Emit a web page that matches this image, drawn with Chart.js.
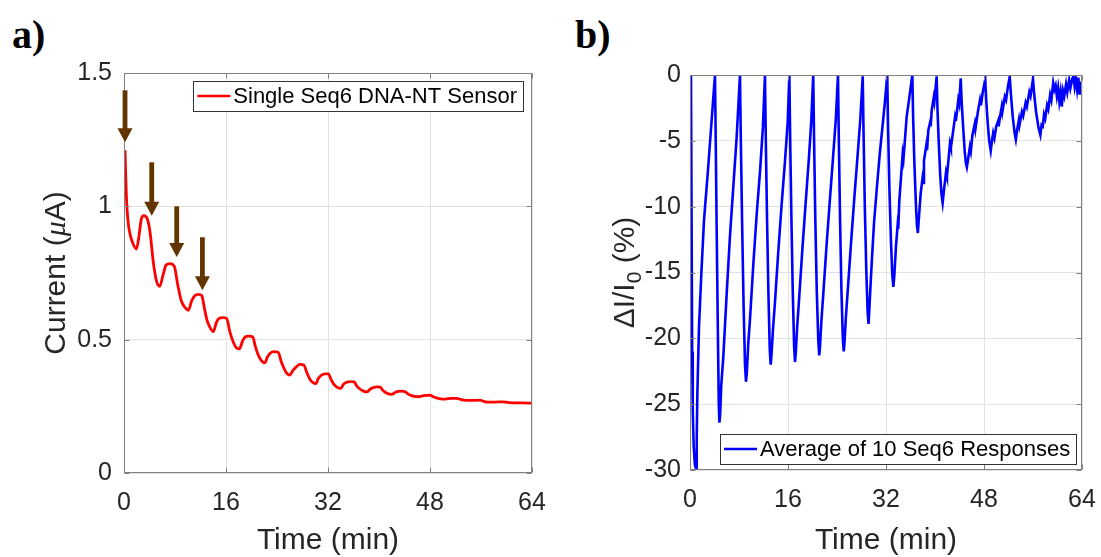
<!DOCTYPE html>
<html>
<head>
<meta charset="utf-8">
<script src="https://cdn.jsdelivr.net/npm/chart.js@4.4.0/dist/chart.umd.min.js"></script>
<style>
body { margin: 0; background: #fff; width: 1101px; height: 557px; position: relative; overflow: hidden; }
canvas { position: absolute; top: 0; }
#chartA { left: 0; }
#chartB { left: 560px; }
.tag { position: absolute; font-family: "Liberation Serif", "Times New Roman", serif; font-weight: bold; font-size: 40px; color: #000; line-height: 1; }
</style>
</head>
<body>
<div class="tag" style="left:12px;top:15px">a)</div>
<div class="tag" style="left:575px;top:15px">b)</div>
<canvas id="chartA" width="560" height="557"></canvas>
<canvas id="chartB" width="541" height="557"></canvas>
<script>
// panel a: single sensor current
const timeA = [0.16, 0.3, 0.45, 0.7, 1.0, 1.5, 1.95, 2.3, 2.7, 3.1, 3.7, 4.1, 4.6, 5.1, 5.6, 6.1, 6.6, 7.2, 7.9, 8.4,
  9.0, 9.6, 10.1, 10.6, 11.1, 11.7, 12.2, 12.6, 13.0, 13.5, 14.0, 14.5, 14.9, 15.5, 16.1, 16.6, 17.15, 17.6, 18.1, 18.6,
  19.0, 19.6, 20.2, 20.6, 21.1, 21.6, 22.1, 22.5, 22.9, 23.5, 24.2, 24.7, 25.25, 25.6, 26.0, 26.5, 27.1, 27.6, 28.2, 28.7,
  29.2, 29.6, 30.1, 30.5, 31.0, 31.5, 32.05, 32.5, 32.9, 33.4, 34.0, 34.4, 34.9, 35.5, 36.1, 36.5, 37.0, 37.5, 38.1, 38.6,
  39.1, 39.6, 40.2, 40.6, 41.0, 41.5, 42.0, 42.5, 43.0, 43.6, 44.1, 44.6, 45.0, 45.6, 46.2, 47.0, 48.0, 48.5, 49.0, 49.7,
  50.4, 51.3, 52.2, 52.8, 53.3, 54.5, 55.8, 56.4, 57.0, 58.2, 59.5, 60.2, 61.1, 62.5, 64];
const currentA = [1.21, 1.09, 1.0, 0.93, 0.89, 0.855, 0.84, 0.88, 0.95, 0.965, 0.95, 0.9, 0.79, 0.72, 0.7, 0.74, 0.78, 0.785, 0.775, 0.71,
  0.645, 0.62, 0.61, 0.645, 0.665, 0.67, 0.665, 0.62, 0.575, 0.545, 0.53, 0.565, 0.58, 0.583, 0.58, 0.53, 0.49, 0.47, 0.466, 0.495,
  0.51, 0.513, 0.51, 0.475, 0.44, 0.42, 0.413, 0.435, 0.448, 0.455, 0.452, 0.415, 0.385, 0.372, 0.367, 0.385, 0.4, 0.407, 0.405, 0.375,
  0.35, 0.34, 0.335, 0.355, 0.367, 0.372, 0.372, 0.35, 0.333, 0.322, 0.317, 0.332, 0.34, 0.343, 0.342, 0.327, 0.315, 0.308, 0.304, 0.314,
  0.32, 0.323, 0.322, 0.31, 0.302, 0.297, 0.295, 0.302, 0.306, 0.307, 0.305, 0.296, 0.291, 0.287, 0.286, 0.29, 0.292, 0.286, 0.282, 0.278,
  0.277, 0.28, 0.28, 0.276, 0.273, 0.272, 0.273, 0.269, 0.266, 0.266, 0.267, 0.265, 0.263, 0.263, 0.262];

// brown arrows marking the injections
const arrowTimes = [0.16, 4.35, 8.27, 12.3];
const arrowTops = [1.435, 1.165, 1.0, 0.884];
const arrowTips = [1.24, 0.965, 0.81, 0.685];

// panel b: average relative response, one line per cycle
const timeB = [
  0.16, 0.25, 0.35, 0.45, 0.6, 0.8, 0.98, 1.1, 1.2, 1.47, 1.85, 2.29, 2.94, 3.54, 4.08,
  4.2, 4.35, 4.55, 4.7, 4.8, 4.92, 5.1, 5.44, 5.99, 6.53, 7.07, 7.62, 8.16,
  8.3, 8.5, 8.75, 8.98, 9.14, 9.28, 9.5, 9.8, 10.35, 10.9, 11.45, 11.9, 12.24,
  12.38, 12.58, 12.8, 13.02, 13.17, 13.3, 13.55, 13.85, 14.4, 14.95, 15.5, 15.95, 16.22,
  16.36, 16.56, 16.78, 17.0, 17.14, 17.27, 17.5, 17.8, 18.35, 18.9, 19.4, 19.8, 20.12,
  20.26, 20.46, 20.7, 20.95, 21.1, 21.23, 21.45, 21.75, 22.3, 22.85, 23.35, 23.8, 24.16,
  24.3, 24.5, 24.72, 24.95, 25.1, 25.23, 25.45, 25.75, 26.3, 26.85, 27.35, 27.8, 28.2,
  28.34, 28.54, 28.78, 29.0, 29.15, 29.28, 29.45, 29.7, 30.05, 30.5, 31.0, 31.45, 31.85, 32.2,
  32.34, 32.55, 32.8, 33.03, 33.2, 33.35, 33.63, 33.9, 34.0, 34.17, 34.72, 34.85, 35.37, 35.9, 36.3,
  36.42, 36.62, 36.88, 37.05, 37.2, 37.35, 37.66, 37.95, 38.05, 38.2, 38.6, 38.7, 38.91, 39.2, 39.3, 39.46, 39.8, 39.9, 40.27,
  40.4, 40.6, 40.85, 41.05, 41.25, 41.45, 41.8, 41.95, 42.45, 42.6, 43.27, 43.4, 43.8, 43.95, 44.2,
  44.35, 44.6, 44.85, 45.05, 45.2, 45.4, 45.7, 45.85, 46.1, 46.5, 46.6, 47.0, 47.35, 47.5, 47.8, 48.2,
  48.35, 48.6, 48.85, 49.1, 49.3, 49.5, 49.7, 50.0, 50.3, 50.4, 50.6, 50.9, 51.0, 51.4, 51.6, 51.9, 52.2,
  52.4, 52.7, 53.0, 53.2, 53.4, 53.7, 53.8, 54.2, 54.4, 54.8, 55.0, 55.4, 55.6, 56.0,
  56.2, 56.5, 56.9, 57.2, 57.4, 57.6, 57.8, 58.0, 58.3, 58.5, 58.8, 59.0, 59.3, 59.5, 59.7, 59.9, 60.1, 60.3, 60.5, 60.7,
  60.9, 61.1, 61.4, 61.6, 61.9, 62.1, 62.4, 62.6, 62.8, 63.0, 63.2, 63.4, 63.6, 63.8, 64.0];
const responseB = [
  0, -10, -21, -25.5, -28.2, -29.6, -29.9, -27.5, -24.2, -19.1, -15.1, -11, -7.2, -3.4, 0,
  -5, -11.5, -19.5, -25, -26.4, -25.8, -23.6, -21.4, -16.6, -12.2, -8.5, -4.7, 0,
  -5, -11, -17.5, -22, -23.3, -22.6, -20.5, -18.5, -14.3, -10.5, -7.2, -4, 0,
  -5, -11, -16.5, -20.8, -22, -21.3, -19.3, -17.4, -13.5, -9.9, -6.6, -3.6, 0,
  -5, -11, -16.5, -20.6, -21.8, -21.1, -19.1, -17.1, -13.2, -9.6, -6.4, -3.5, 0,
  -5, -11, -16.5, -20.2, -21.3, -20.6, -18.7, -16.7, -12.9, -9.4, -6.3, -3.4, 0,
  -5, -11, -16.3, -20, -21, -20.3, -18.4, -16.4, -12.7, -9.2, -6.2, -3.4, -0.1,
  -4.5, -10, -14.8, -18, -18.9, -17.8, -16.2, -14, -11.2, -8.6, -5.9, -3.8, -1.9, 0,
  -4, -8.5, -12.5, -15.2, -16.1, -15.3, -13, -11.4, -11.7, -9.6, -6, -6.4, -3.2, -1.4, 0,
  -3, -6.5, -9.8, -11.4, -12, -11, -9, -7.9, -8.2, -6.5, -5.3, -5.7, -4.2, -3.6, -3.9, -2.7, -1.7, -2, -0.1,
  -2.5, -5, -7.6, -9, -9.7, -8.8, -7.4, -7.7, -5.2, -5.5, -3.2, -3.5, -1.9, -2.2, -0.25,
  -2, -4, -5.8, -6.7, -7, -6.4, -5.45, -5.8, -4.6, -3.7, -4.1, -2.8, -1.9, -2.3, -1.3, -0.33,
  -1.8, -3.6, -5, -5.75, -5, -4.4, -4.8, -3.9, -3.5, -3.9, -3.2, -2.4, -2.8, -1.65, -1.9, -0.9, -0.13,
  -1.5, -3.2, -4.4, -4.9, -4.2, -3.4, -3.8, -2.8, -3.1, -2.1, -2.4, -1.3, -1.6, -0.3,
  -1.5, -2.8, -4, -4.55, -3.8, -3.9, -3, -3.3, -2.3, -2.6, -1.5, -1.9, -0.6, -1.1, -0.8, -1.6, -1, -2, -1.3, -2.4,
  -1.2, -1.6, -0.7, -1.3, -0.4, -1, -0.3, -0.1, -0.9, -0.3, -1.1, -0.2, -1.5, -0.5, -1.4];

const FONT = '"Liberation Sans", Arial, Helvetica, sans-serif';
const TEXT = '#262626';
const AXIS = '#808080';
const GRID = '#e2e2e2';

function line(ctx, x1, y1, x2, y2) {
  ctx.beginPath();
  ctx.moveTo(x1, y1);
  ctx.lineTo(x2, y2);
  ctx.stroke();
}

// box around the axes with inward ticks, like the matlab figure
const framePlugin = {
  id: 'frame',
  afterDatasetsDraw(chart) {
    const { ctx, chartArea: a, scales: { x, y } } = chart;
    ctx.save();
    ctx.strokeStyle = AXIS;
    ctx.lineWidth = 1;
    const l = Math.round(a.left) + 0.5, r = Math.round(a.right) - 0.5;
    const t = Math.round(a.top) + 0.5, b = Math.round(a.bottom) - 0.5;
    ctx.strokeRect(l, t, r - l, b - t);
    x.ticks.forEach(tk => {
      const px = Math.round(x.getPixelForValue(tk.value)) + 0.5;
      line(ctx, px, b, px, b - 5);
      line(ctx, px, t, px, t + 5);
    });
    y.ticks.forEach(tk => {
      const py = Math.round(y.getPixelForValue(tk.value)) + 0.5;
      line(ctx, l, py, l + 5, py);
      line(ctx, r, py, r - 5, py);
    });
    ctx.restore();
  }
};

// one boxed legend entry, placed like the original
const boxLegend = {
  id: 'boxLegend',
  afterDraw(chart, args, opts) {
    const { ctx, chartArea: a } = chart;
    const ds = chart.data.datasets[0];
    ctx.save();
    ctx.font = '22px ' + FONT;
    const tw = ctx.measureText(ds.label).width;
    const w = 4 + 33 + 3 + tw + 6, h = 30;
    const bx = opts.right != null ? a.right - opts.right - w : a.left + opts.left;
    const by = opts.top != null ? a.top + opts.top : a.bottom - opts.bottom - h;
    ctx.fillStyle = '#fff';
    ctx.fillRect(bx, by, w, h);
    ctx.strokeStyle = '#333';
    ctx.lineWidth = 1;
    ctx.strokeRect(Math.round(bx) + 0.5, Math.round(by) + 0.5, Math.round(w), h);
    ctx.strokeStyle = ds.borderColor;
    ctx.lineWidth = 2.6;
    line(ctx, bx + 4, by + h / 2, bx + 37, by + h / 2);
    ctx.fillStyle = '#000';
    ctx.textBaseline = 'middle';
    ctx.fillText(ds.label, bx + 40, by + h / 2 + 1);
    ctx.restore();
  }
};

// rotated y title made of pieces (italic mu, subscript 0)
const richTitle = {
  id: 'richTitle',
  afterDraw(chart, args, opts) {
    const { ctx, chartArea: a } = chart;
    ctx.save();
    ctx.translate(opts.x, (a.top + a.bottom) / 2);
    ctx.rotate(-Math.PI / 2);
    let total = 0;
    opts.parts.forEach(p => { ctx.font = p.font; p.w = ctx.measureText(p.text).width; total += p.w; });
    let xx = -total / 2;
    ctx.fillStyle = TEXT;
    ctx.textBaseline = 'middle';
    opts.parts.forEach(p => { ctx.font = p.font; ctx.fillText(p.text, xx, p.dy || 0); xx += p.w; });
    ctx.restore();
  }
};

const arrowPlugin = {
  id: 'arrows',
  afterDatasetsDraw(chart) {
    const { ctx, scales: { x, y } } = chart;
    ctx.save();
    ctx.fillStyle = '#623400';
    arrowTimes.forEach((tm, i) => {
      const px = x.getPixelForValue(tm);
      const top = y.getPixelForValue(arrowTops[i]);
      const tip = y.getPixelForValue(arrowTips[i]);
      const head = 14;
      ctx.fillRect(px - 2.4, top, 4.8, tip - head - top + 1);
      ctx.beginPath();
      ctx.moveTo(px - 7.5, tip - head);
      ctx.lineTo(px + 7.5, tip - head);
      ctx.lineTo(px, tip);
      ctx.closePath();
      ctx.fill();
    });
    ctx.restore();
  }
};

function xScale(height) {
  return {
    type: 'linear', min: 0, max: 64,
    ticks: { stepSize: 8, autoSkip: false, maxRotation: 0, padding: 15, color: TEXT, font: { size: 25, family: FONT },
      callback: v => (v % 16 === 0 ? String(v) : null) },
    grid: { color: GRID, drawTicks: false },
    border: { display: false },
    title: { display: true, text: 'Time (min)', color: TEXT, font: { size: 30, family: FONT, lineHeight: 1.1 }, padding: 0 },
    // fixed height; the layout padding alone sets the side margins
    afterFit: s => { s.height = height; s.paddingLeft = 0; s.paddingRight = 0; }
  };
}

new Chart(document.getElementById('chartA'), {
  type: 'line',
  data: {
    datasets: [{
      label: 'Single Seq6 DNA-NT Sensor',
      data: timeA.map((t, i) => ({ x: t, y: currentA[i] })),
      borderColor: '#ff0000',
      borderWidth: 2.8,
      pointRadius: 0,
      cubicInterpolationMode: 'monotone',
      fill: false
    }]
  },
  options: {
    responsive: false, animation: false, devicePixelRatio: 1,
    layout: { padding: { left: 0, top: 73, right: 28, bottom: 0 } },
    plugins: {
      legend: { display: false }, tooltip: { enabled: false },
      boxLegend: { right: 9, top: 8 },
      richTitle: { x: 57, parts: [
        { text: 'Current (', font: '30px ' + FONT },
        { text: 'μ', font: 'italic 30px "Liberation Serif", serif' },
        { text: 'A)', font: '30px ' + FONT }
      ] }
    },
    scales: {
      x: xScale(84),
      y: {
        min: 0, max: 1.5,
        ticks: { stepSize: 0.5, padding: 12, color: TEXT, font: { size: 25, family: FONT }, callback: v => String(v) },
        grid: { color: GRID, drawTicks: false },
        border: { display: false },
        afterFit: s => { s.width = 124; }
      }
    }
  },
  plugins: [framePlugin, arrowPlugin, boxLegend, richTitle]
});

new Chart(document.getElementById('chartB'), {
  type: 'line',
  data: {
    datasets: [{
      label: 'Average of 10 Seq6 Responses',
      data: timeB.map((t, i) => ({ x: t, y: responseB[i] })),
      borderColor: '#0000ff',
      borderWidth: 2.6,
      pointRadius: 0,
      tension: 0,
      fill: false
    }]
  },
  options: {
    responsive: false, animation: false, devicePixelRatio: 1,
    layout: { padding: { left: 0, top: 75, right: 19, bottom: 0 } },
    plugins: {
      legend: { display: false }, tooltip: { enabled: false },
      boxLegend: { left: 30, bottom: 6 },
      richTitle: { x: 66, parts: [
        { text: 'ΔI/I', font: '30px ' + FONT },
        { text: '0', font: '21px ' + FONT, dy: 9 },
        { text: ' (%)', font: '30px ' + FONT }
      ] }
    },
    scales: {
      x: xScale(87),
      y: {
        min: -30, max: 0,
        ticks: { stepSize: 5, padding: 9, color: TEXT, font: { size: 25, family: FONT } },
        grid: { color: GRID, drawTicks: false },
        border: { display: false },
        afterFit: s => { s.width = 130; }
      }
    }
  },
  plugins: [framePlugin, boxLegend, richTitle]
});
</script>
</body>
</html>
